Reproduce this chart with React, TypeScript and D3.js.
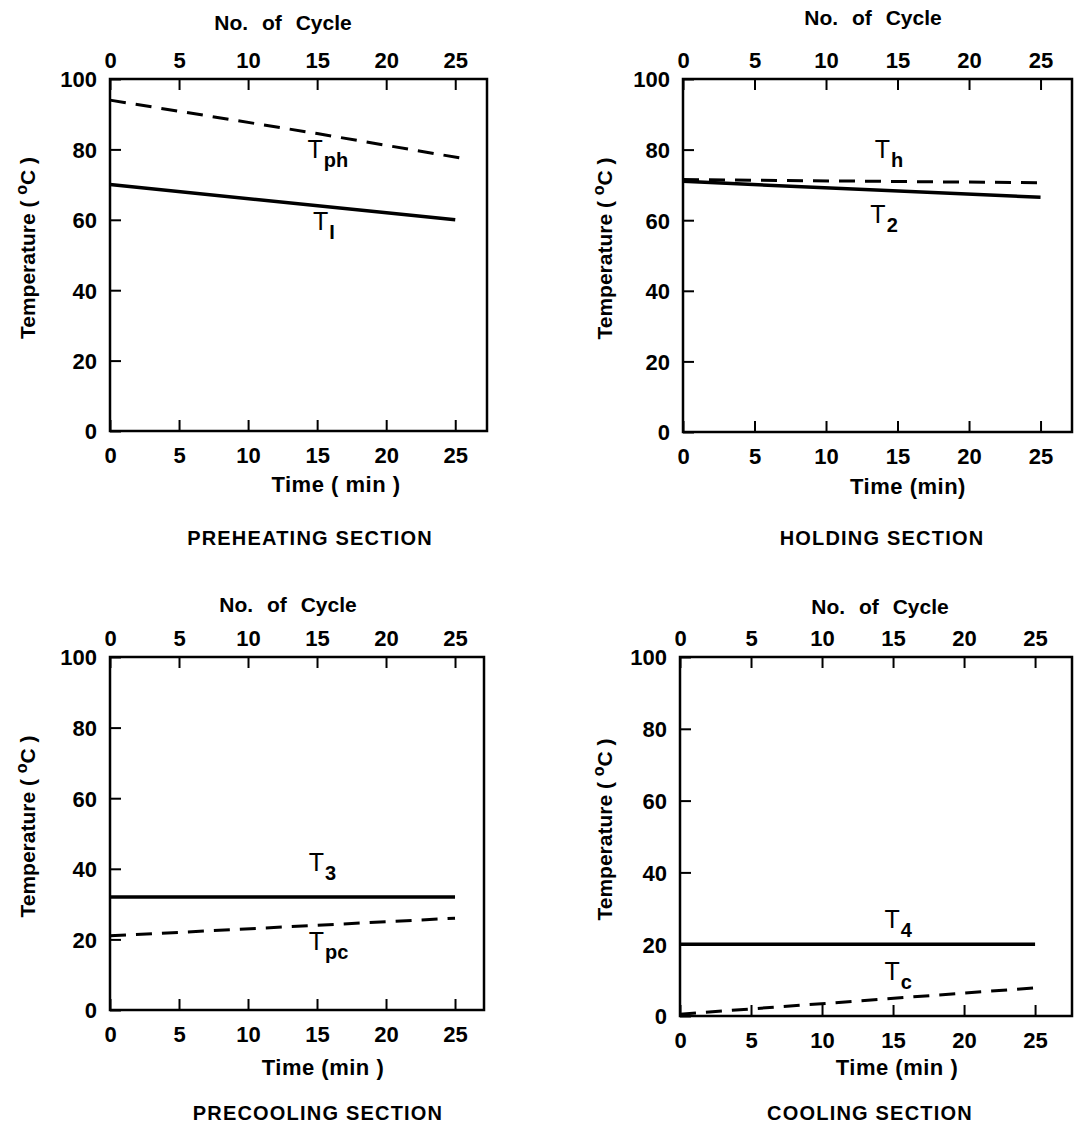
import * as d3 from "d3";
import { useRef, useEffect } from "react";

// tick values
const timeTicks = [0, 5, 10, 15, 20, 25];
const cycleTicks = [0, 5, 10, 15, 20, 25];
const tempTicks = [0, 20, 40, 60, 80, 100];

// preheating section
const tphTime = [0, 15, 25.3];
const tphTemp = [94, 84.5, 77.6];
const t1Time = [0, 25];
const t1Temp = [70, 60];

// holding section
const thTime = [0, 25.3];
const thTemp = [71.5, 70.6];
const t2Time = [0, 25];
const t2Temp = [71, 66.5];

// precooling section
const t3Time = [0, 25];
const t3Temp = [32, 32];
const tpcTime = [0, 25];
const tpcTemp = [21, 26];

// cooling section
const t4Time = [0, 25];
const t4Temp = [20, 20];
const tcTime = [0, 25.5];
const tcTemp = [0.5, 8];

const zip = (xs: number[], ys: number[]) => xs.map((x, i) => [x, ys[i]] as [number, number]);

const FONT = "'Liberation Sans', Arial, sans-serif";

const panels = [
  {
    title: "PREHEATING  SECTION", box: { l: 110, r: 487, t: 79, b: 431 }, xMax: 27.3,
    xLabel: "Time ( min )", xLabelY: 492, titleY: 545, titleX: 310, xLabelX: 336, yLabelX: 35, cycleX: 283, cycleY: 30,
    series: [
      { pts: zip(tphTime, tphTemp), dashed: true, name: "T", sub: "ph", at: [14.3, 77.6] },
      { pts: zip(t1Time, t1Temp), dashed: false, name: "T", sub: "I", at: [14.7, 57] },
    ],
  },
  {
    title: "HOLDING  SECTION", box: { l: 683, r: 1072, t: 79, b: 432 }, xMax: 27.2,
    xLabel: "Time (min)", xLabelY: 494, titleY: 545, titleX: 882, xLabelX: 908, yLabelX: 612, cycleX: 873, cycleY: 25,
    series: [
      { pts: zip(thTime, thTemp), dashed: true, name: "T", sub: "h", at: [13.4, 77.6] },
      { pts: zip(t2Time, t2Temp), dashed: false, name: "T", sub: "2", at: [13.1, 59.2] },
    ],
  },
  {
    title: "PRECOOLING   SECTION", box: { l: 110, r: 484, t: 657, b: 1010 }, xMax: 27.1,
    xLabel: "Time (min )", xLabelY: 1075, titleY: 1120, titleX: 318, xLabelX: 323, yLabelX: 35, cycleX: 288, cycleY: 612,
    series: [
      { pts: zip(t3Time, t3Temp), dashed: false, name: "T", sub: "3", at: [14.4, 39.5] },
      { pts: zip(tpcTime, tpcTemp), dashed: true, name: "T", sub: "pc", at: [14.4, 17] },
    ],
  },
  {
    title: "COOLING   SECTION", box: { l: 680, r: 1072, t: 657, b: 1016 }, xMax: 27.6,
    xLabel: "Time (min )", xLabelY: 1075, titleY: 1120, titleX: 870, xLabelX: 897, yLabelX: 612, cycleX: 880, cycleY: 614,
    series: [
      { pts: zip(t4Time, t4Temp), dashed: false, name: "T", sub: "4", at: [14.4, 24.5] },
      { pts: zip(tcTime, tcTemp), dashed: true, name: "T", sub: "c", at: [14.4, 10] },
    ],
  },
];

const App = () => {
  const ref = useRef<SVGSVGElement>(null);

  useEffect(() => {
    const svg = d3.select(ref.current);
    svg.selectAll("*").remove();

    panels.forEach((p) => {
      const { l, r, t, b } = p.box;
      const x = d3.scaleLinear().domain([0, p.xMax]).range([l, r]);
      const y = d3.scaleLinear().domain([0, 100]).range([b, t]);
      const g = svg.append("g").style("font-family", FONT).style("font-weight", "bold")
        .style("white-space", "pre");

      // frame
      g.append("rect")
        .attr("x", l).attr("y", t).attr("width", r - l).attr("height", b - t)
        .attr("fill", "none").attr("stroke", "#000").attr("stroke-width", 2.5);

      // bottom axis, ticks point inward
      const bottom = d3.axisBottom(x).tickValues(timeTicks).tickSize(-11).tickPadding(16).tickFormat(d3.format("d"));
      const gb = g.append("g").attr("transform", `translate(0,${b})`).call(bottom);
      // top axis = No. of Cycle
      const top = d3.axisTop(x).tickValues(cycleTicks).tickSize(-11).tickPadding(11).tickFormat(d3.format("d"));
      const gt = g.append("g").attr("transform", `translate(0,${t})`).call(top);
      // left axis
      const left = d3.axisLeft(y).tickValues(tempTicks).tickSize(-11).tickPadding(13).tickFormat(d3.format("d"));
      const gl = g.append("g").attr("transform", `translate(${l},0)`).call(left);

      [gb, gt, gl].forEach((ax) => {
        ax.select(".domain").remove();
        ax.selectAll("line").attr("stroke", "#000").attr("stroke-width", 2);
        ax.selectAll("text").attr("fill", "#000").style("font-size", "22px")
          .style("font-family", FONT).style("font-weight", "bold");
      });
      gl.selectAll("text").attr("dy", "0.36em");

      // series
      const line = d3.line<[number, number]>().x((d) => x(d[0])).y((d) => y(d[1]));
      p.series.forEach((s) => {
        g.append("path")
          .datum(s.pts)
          .attr("d", line)
          .attr("fill", "none")
          .attr("stroke", "#000")
          .attr("stroke-width", s.dashed ? 3 : 3.5)
          .attr("stroke-dasharray", s.dashed ? "16,10" : null);
        const txt = g.append("text")
          .attr("x", x(s.at[0])).attr("y", y(s.at[1]))
          .style("font-size", "25px").style("font-weight", "normal");
        txt.append("tspan").text(s.name);
        txt.append("tspan").attr("dy", 9).attr("dx", 1).style("font-size", "20px").style("font-weight", "bold").text(s.sub);
      });

      // axis titles
      g.append("text").attr("x", p.cycleX).attr("y", p.cycleY)
        .attr("text-anchor", "middle").style("font-size", "21px").style("word-spacing", "8px")
        .text("No. of Cycle");
      g.append("text").attr("x", p.xLabelX).attr("y", p.xLabelY)
        .attr("text-anchor", "middle").style("font-size", "22px").style("letter-spacing", "0.5px")
        .text(p.xLabel);
      g.append("text").attr("x", p.titleX).attr("y", p.titleY)
        .attr("text-anchor", "middle").style("font-size", "20px")
        .style("letter-spacing", "1.2px").text(p.title);

      const cy = (t + b) / 2 - 7;
      const yl = g.append("text")
        .attr("transform", `translate(${p.yLabelX},${cy}) rotate(-90)`)
        .attr("text-anchor", "middle").style("font-size", "21px");
      yl.append("tspan").text("Temperature ( ");
      yl.append("tspan").attr("dy", -8).style("font-size", "16px").text("o");
      yl.append("tspan").attr("dy", 8).text("C )");
    });
  }, []);

  return (
    <svg
      ref={ref}
      width={1077}
      height={1124}
      style={{ position: "absolute", left: 0, top: 0, background: "#fff" }}
    />
  );
};

export default App;
